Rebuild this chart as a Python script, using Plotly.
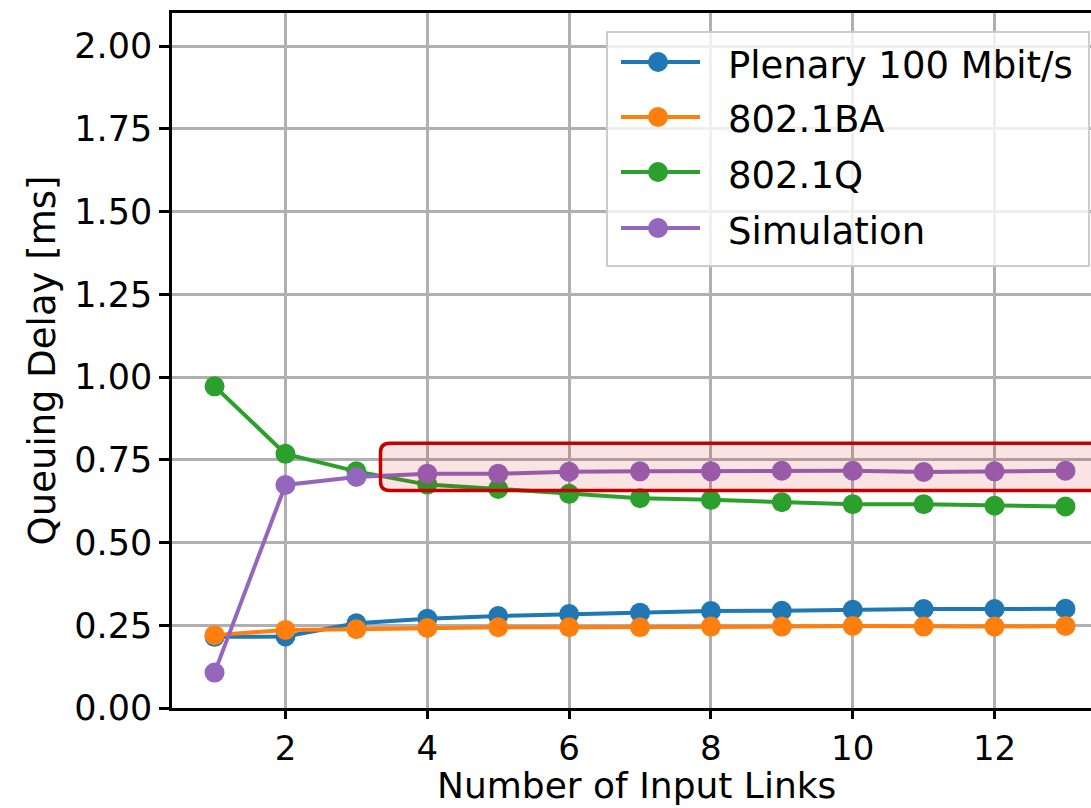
import plotly.graph_objects as go

# ---- data ----
input_links = [1, 2, 3, 4, 5, 6, 7, 8, 9, 10, 11, 12, 13]
plenary_100 = [0.215, 0.216, 0.256, 0.270, 0.278, 0.284, 0.288, 0.293, 0.294, 0.297, 0.299, 0.299, 0.300]
ieee_8021ba = [0.220, 0.236, 0.238, 0.242, 0.244, 0.244, 0.244, 0.246, 0.246, 0.248, 0.246, 0.246, 0.248]
ieee_8021q = [0.972, 0.768, 0.715, 0.675, 0.662, 0.647, 0.634, 0.629, 0.622, 0.616, 0.616, 0.611, 0.609]
simulation = [0.107, 0.674, 0.698, 0.708, 0.708, 0.714, 0.715, 0.715, 0.717, 0.717, 0.713, 0.715, 0.717]

series_names = ["Plenary 100 Mbit/s", "802.1BA", "802.1Q", "Simulation"]
series_values = [plenary_100, ieee_8021ba, ieee_8021q, simulation]
series_colors = ["#1f77b4", "#ff7f0e", "#2ca02c", "#9467bd"]

x_ticks = [2, 4, 6, 8, 10, 12]
y_ticks = [0.0, 0.25, 0.5, 0.75, 1.0, 1.25, 1.5, 1.75, 2.0]

# highlighted region (data units)
hl_x0, hl_x1 = 3.34, 13.62
hl_y0, hl_y1 = 0.657, 0.800

FONT = "DejaVu Sans"
W, H = 1091, 808
ML, MR, MT, MB = 172, 0, 13, 100
PW, PH = W - ML - MR, H - MT - MB


def px_x(p):
    return (p - ML) / PW


def px_y(p):
    return (H - MB - p) / PH


fig = go.Figure()
for name, vals, col in zip(series_names, series_values, series_colors):
    fig.add_trace(go.Scatter(
        x=input_links, y=vals, name=name, mode="lines+markers",
        line=dict(color=col, width=4),
        marker=dict(color=col, size=20),
        cliponaxis=False, showlegend=False,
    ))

# rounded rectangle highlight
rx, ry = 0.13, 0.028
path = (f"M {hl_x0+rx},{hl_y1} L {hl_x1-rx},{hl_y1} Q {hl_x1},{hl_y1} {hl_x1},{hl_y1-ry} "
        f"L {hl_x1},{hl_y0+ry} Q {hl_x1},{hl_y0} {hl_x1-rx},{hl_y0} "
        f"L {hl_x0+rx},{hl_y0} Q {hl_x0},{hl_y0} {hl_x0},{hl_y0+ry} "
        f"L {hl_x0},{hl_y1-ry} Q {hl_x0},{hl_y1} {hl_x0+rx},{hl_y1} Z")
fig.add_shape(type="path", path=path, xref="x", yref="y", layer="above",
              line=dict(color="#c40000", width=3.5), fillcolor="rgba(200,0,0,0.11)")

# ---- legend (matplotlib style) ----
leg_left, leg_right, leg_top, leg_bottom = 607, 1089, 32, 266
fig.add_shape(type="rect", xref="paper", yref="paper", layer="above",
              x0=px_x(leg_left), x1=px_x(leg_right), y0=px_y(leg_bottom), y1=px_y(leg_top),
              line=dict(color="#cccccc", width=2), fillcolor="rgba(255,255,255,0.8)")
row_y = [62, 117, 172, 228]
for name, col, ry_px in zip(series_names, series_colors, row_y):
    fig.add_shape(type="line", xref="paper", yref="paper", layer="above",
                  x0=px_x(621), x1=px_x(700), y0=px_y(ry_px), y1=px_y(ry_px),
                  line=dict(color=col, width=4))
    fig.add_shape(type="circle", xref="paper", yref="paper", layer="above",
                  x0=px_x(658 - 10), x1=px_x(658 + 10), y0=px_y(ry_px + 10), y1=px_y(ry_px - 10),
                  line=dict(color=col, width=0), fillcolor=col)
    fig.add_annotation(xref="paper", yref="paper", x=px_x(726), y=px_y(ry_px + 3),
                       xanchor="left", yanchor="middle", showarrow=False, text=name,
                       font=dict(family=FONT, size=37, color="black"))

# x-axis title placed as annotation just below the tick labels
fig.add_annotation(xref="paper", yref="paper", x=px_x(636), y=px_y(808), xanchor="center",
                   yanchor="bottom", showarrow=False, text="Number of Input Links",
                   font=dict(family=FONT, size=36, color="black"))

fig.update_layout(
    width=W, height=H,
    margin=dict(l=ML, r=MR, t=MT, b=MB),
    paper_bgcolor="white", plot_bgcolor="white",
    font=dict(family=FONT, size=35, color="black"),
    showlegend=False,
)
fig.update_xaxes(
    range=[0.4, 13.36], tickmode="array", tickvals=x_ticks,
    showgrid=True, gridcolor="#b0b0b0", gridwidth=2.5,
    showline=True, linecolor="black", linewidth=2.5, mirror=True,
    ticks="outside", ticklen=8, tickwidth=2.5, tickcolor="black",
    tickfont=dict(family=FONT, size=34),
    zeroline=False,
)
fig.update_yaxes(
    range=[0, 2.1], tickmode="array", tickvals=y_ticks, tickformat=".2f",
    showgrid=True, gridcolor="#b0b0b0", gridwidth=2.5,
    showline=True, linecolor="black", linewidth=2.5, mirror=False,
    ticks="outside", ticklen=10, tickwidth=2.5, tickcolor="black",
    zeroline=False,
    title=dict(text="Queuing Delay [ms]", font=dict(family=FONT, size=37), standoff=8),
)

fig.write_html("out.html")
